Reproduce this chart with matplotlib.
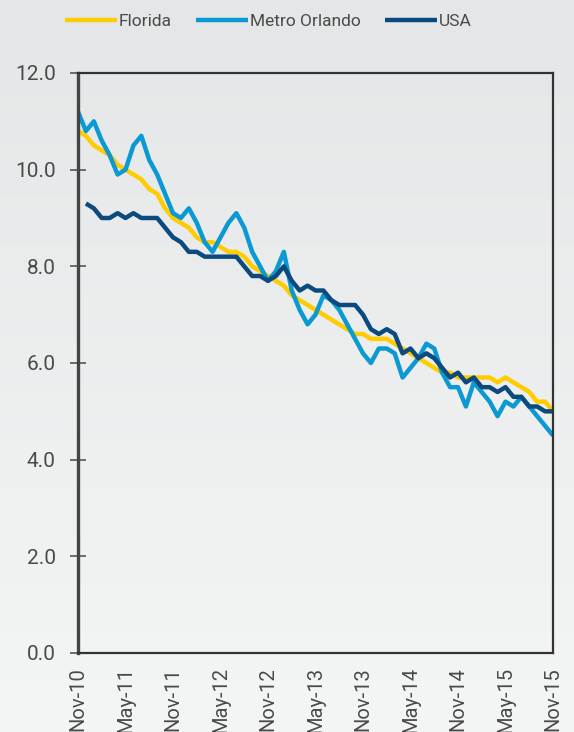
import numpy as np
import matplotlib
matplotlib.use("Agg")
import matplotlib.pyplot as plt
from matplotlib.colors import LinearSegmentedColormap

months = ["Nov-10", "May-11", "Nov-11", "May-12", "Nov-12", "May-13",
          "Nov-13", "May-14", "Nov-14", "May-15", "Nov-15"]

florida = [10.8, 10.7, 10.5, 10.4, 10.3, 10.1, 10.0, 9.9, 9.8, 9.6,
           9.5, 9.2, 9.0, 8.9, 8.8, 8.6, 8.5, 8.5, 8.4, 8.3,
           8.3, 8.2, 8.0, 7.9, 7.8, 7.7, 7.6, 7.4, 7.3, 7.2,
           7.1, 7.0, 6.9, 6.8, 6.7, 6.6, 6.6, 6.5, 6.5, 6.5,
           6.4, 6.3, 6.2, 6.1, 6.0, 5.9, 5.8, 5.8, 5.7, 5.7,
           5.7, 5.7, 5.7, 5.6, 5.7, 5.6, 5.5, 5.4, 5.2, 5.2, 5.0]

metro_orlando = [11.2, 10.8, 11.0, 10.6, 10.3, 9.9, 10.0, 10.5, 10.7, 10.2,
                 9.9, 9.5, 9.1, 9.0, 9.2, 8.9, 8.5, 8.3, 8.6, 8.9,
                 9.1, 8.8, 8.3, 8.0, 7.7, 7.9, 8.3, 7.5, 7.1, 6.8,
                 7.0, 7.4, 7.3, 7.1, 6.8, 6.5, 6.2, 6.0, 6.3, 6.3,
                 6.2, 5.7, 5.9, 6.1, 6.4, 6.3, 5.8, 5.5, 5.5, 5.1,
                 5.6, 5.4, 5.2, 4.9, 5.2, 5.1, 5.3, 5.1, 4.9, 4.7, 4.5]

usa = [np.nan, 9.3, 9.2, 9.0, 9.0, 9.1, 9.0, 9.1, 9.0, 9.0,
       9.0, 8.8, 8.6, 8.5, 8.3, 8.3, 8.2, 8.2, 8.2, 8.2,
       8.2, 8.0, 7.8, 7.8, 7.7, 7.8, 8.0, 7.7, 7.5, 7.6,
       7.5, 7.5, 7.3, 7.2, 7.2, 7.2, 7.0, 6.7, 6.6, 6.7,
       6.6, 6.2, 6.3, 6.1, 6.2, 6.1, 5.9, 5.7, 5.8, 5.6,
       5.7, 5.5, 5.5, 5.4, 5.5, 5.3, 5.3, 5.1, 5.1, 5.0, 5.0]

yticks = [0.0, 2.0, 4.0, 6.0, 8.0, 10.0, 12.0]

plt.rcParams['font.family'] = ['Roboto', 'DejaVu Sans']

fig = plt.figure(figsize=(5.74, 7.32), dpi=100)

# gradient background
bg = fig.add_axes([0, 0, 1, 1], zorder=-10)
cmap = LinearSegmentedColormap.from_list("bg", ["#e5e6e7", "#f4f5f5"])
grad = np.linspace(0, 1, 256).reshape(-1, 1)
bg.imshow(grad, aspect='auto', cmap=cmap, extent=[0, 1, 0, 1], origin='upper')
bg.axis('off')

ax = fig.add_axes([78/574, 1 - 653/732, (553 - 78)/574, (653 - 73)/732])
ax.set_facecolor('none')

x = np.arange(len(florida))
ax.plot(x, florida, color='#FFCC00', lw=3.2, label='Florida', solid_capstyle='butt')
ax.plot(x, metro_orlando, color='#0A99D2', lw=3.2, label='Metro Orlando', solid_capstyle='butt')
ax.plot(x, usa, color='#0B4A7E', lw=3.2, label='USA', solid_capstyle='butt')

ax.set_xlim(0, 60)
ax.set_ylim(0, 12)
ax.set_yticks(yticks)
ax.set_yticklabels([f"{v:.1f}" for v in yticks], fontsize=15, color='#4a4a4a')
ax.set_xticks(np.arange(0, 61, 6))
ax.set_xticklabels(months, rotation=90, fontsize=14.5, color='#4a4a4a', va='top')
ax.tick_params(axis='x', length=0, pad=10)
ax.tick_params(axis='y', direction='inout', length=12, width=1.2, color='#555555', pad=10)

for side in ['top', 'right', 'bottom']:
    ax.spines[side].set_color('#333333')
    ax.spines[side].set_linewidth(1.6)
ax.spines['left'].set_color('#444444')
ax.spines['left'].set_linewidth(2.4)

fig.legend(loc='center', bbox_to_anchor=(268/574, 1 - 21/732), ncol=3, frameon=False,
           fontsize=12.5, handlelength=3.0, handletextpad=0.1, columnspacing=1.4,
           labelcolor='#4a4a4a', borderaxespad=0)

fig.savefig('out.png', dpi=100)
